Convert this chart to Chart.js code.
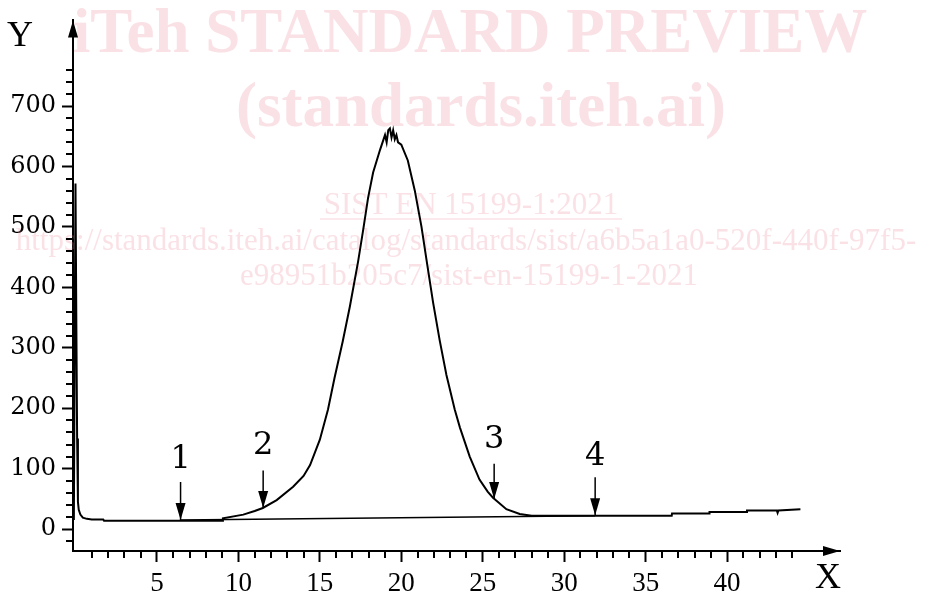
<!DOCTYPE html>
<html>
<head>
<meta charset="utf-8">
<script src="https://cdn.jsdelivr.net/npm/chart.js@4.4.1/dist/chart.umd.min.js"></script>
<style>
  html, body { margin: 0; padding: 0; background: #fff; }
  #wrap { width: 938px; height: 594px; position: relative; }
</style>
</head>
<body>
<div id="wrap"><canvas id="grafica"></canvas></div>
<script>
// curve
var curveX = [-0.1, -0.05, 0.0, 0.05, 0.1, 0.15, 0.2, 0.3, 0.45, 0.7, 1.0, 1.7, 1.75, 9.0,
  9.05, 10.3, 11.0, 11.5, 12.35, 13.36, 14.0, 14.4, 15.0, 15.5, 15.9, 16.4, 16.84, 17.35, 17.66,
  17.96, 18.27, 18.7, 18.9, 19.0, 19.1, 19.2, 19.3, 19.4, 19.5, 19.6, 19.7, 19.8, 20.0,
  20.4, 20.83, 21.24, 21.55, 21.95, 22.36, 22.77, 23.28, 23.6, 24.2, 24.8, 25.3, 25.63, 26.45,
  27.27, 28.0, 36.6, 36.62, 38.9, 38.92, 41.2, 41.22, 43.05, 43.1, 43.15, 44.5];
var curveY = [15, 300, 572, 350, 150, 45, 32, 24, 19, 17, 16, 16, 14, 14,
  18, 24, 30, 35, 48, 70, 88, 106, 148, 198, 250, 310, 368, 443, 495,
  548, 590, 628, 644, 652, 640, 660, 663, 648, 660, 645, 652, 640, 636,
  610, 560, 500, 445, 375, 312, 255, 198, 168, 120, 82, 62, 52, 33,
  25, 22, 22, 26, 26, 28.5, 28.5, 31, 31, 27, 31, 33];

// straight baseline under the peak
var baseX = [6.45, 31.9];
var baseY = [15, 22];

// numbered arrows
var markerX = [6.45, 11.52, 25.7, 31.9];
var markerTip = [15, 35, 50, 23];
var markerTail = [78, 97, 108, 86];
var markerLabelY = [115, 138, 148, 120];
var markerText = ['1', '2', '3', '4'];

// axis ticks
var xMajorTicks = [5, 10, 15, 20, 25, 30, 35, 40];
var yMajorTicks = [0, 100, 200, 300, 400, 500, 600, 700];
var xMinorTicks = [];
for (var i = 1; i <= 44; i++) { if (i % 5 !== 0) xMinorTicks.push(i); }
var yMinorTicks = [];
for (var v = -20; v <= 760; v += 20) { if (v % 100 !== 0 || v > 700) yMinorTicks.push(v); }

function toPoints(xs, ys) {
  var out = [];
  for (var i = 0; i < xs.length; i++) out.push({ x: xs[i], y: ys[i] });
  return out;
}

var datasets = [
  { data: toPoints(curveX, curveY), borderColor: '#000', borderWidth: 2, showLine: true, pointRadius: 0, tension: 0 },
  { data: toPoints(baseX, baseY), borderColor: '#000', borderWidth: 1.5, showLine: true, pointRadius: 0 }
];
for (var k = 0; k < markerX.length; k++) {
  datasets.push({
    data: [{ x: markerX[k], y: markerTail[k] }, { x: markerX[k], y: markerTip[k] }],
    borderColor: '#000', borderWidth: 1.5, showLine: true, pointRadius: 0
  });
}

var watermark = {
  id: 'watermark',
  beforeDatasetsDraw: function(chart) {
    var c = chart.ctx;
    c.save();
    c.fillStyle = 'rgba(236,130,150,0.24)';
    c.strokeStyle = 'rgba(236,130,150,0.24)';
    c.textAlign = 'center';
    c.textBaseline = 'middle';
    c.font = 'bold 63px "Liberation Serif"';
    c.fillText('iTeh STANDARD PREVIEW', 470, 36);
    c.fillText('(standards.iteh.ai)', 481, 110);
    c.font = '31px "Liberation Serif"';
    c.fillText('SIST EN 15199-1:2021', 471, 206);
    c.lineWidth = 1.5;
    c.beginPath(); c.moveTo(320, 219); c.lineTo(622, 219); c.stroke();
    c.fillText('https://standards.iteh.ai/catalog/standards/sist/a6b5a1a0-520f-440f-97f5-', 466, 242);
    c.fillText('e98951b205c7/sist-en-15199-1-2021', 469, 277);
    c.restore();
  }
};

var extras = {
  id: 'extras',
  afterDraw: function(chart) {
    var c = chart.ctx;
    var xs = chart.scales.x, ys = chart.scales.y, a = chart.chartArea;
    c.save();
    c.strokeStyle = '#000';
    c.fillStyle = '#000';
    c.lineWidth = 2;
    // minor ticks
    c.beginPath();
    yMinorTicks.forEach(function(t) {
      var py = Math.round(ys.getPixelForValue(t));
      c.moveTo(a.left - 7, py); c.lineTo(a.left, py);
    });
    xMinorTicks.forEach(function(t) {
      var px = Math.round(xs.getPixelForValue(t));
      c.moveTo(px, a.bottom); c.lineTo(px, a.bottom + 7);
    });
    c.stroke();
    // axis arrow heads
    c.beginPath();
    c.moveTo(a.left, a.top); c.lineTo(a.left - 5, a.top + 17); c.lineTo(a.left + 5, a.top + 17); c.closePath();
    c.fill();
    c.beginPath();
    c.moveTo(a.right, a.bottom); c.lineTo(a.right - 17, a.bottom - 5); c.lineTo(a.right - 17, a.bottom + 5); c.closePath();
    c.fill();
    // arrow heads and numbers
    c.font = '32px "DejaVu Serif"';
    c.textAlign = 'center';
    c.textBaseline = 'middle';
    for (var i = 0; i < markerX.length; i++) {
      var px = xs.getPixelForValue(markerX[i]);
      var py = ys.getPixelForValue(markerTip[i]);
      c.beginPath();
      c.moveTo(px, py); c.lineTo(px - 5, py - 17); c.lineTo(px + 5, py - 17); c.closePath();
      c.fill();
      c.fillText(markerText[i], px, ys.getPixelForValue(markerLabelY[i]));
    }
    // axis names
    c.font = '36px "Liberation Serif"';
    c.fillText('Y', a.left - 53, a.top + 16);
    c.fillText('X', a.right - 12, a.bottom + 28);
    c.restore();
  }
};

var ctx = document.getElementById('grafica').getContext('2d');
var chart = new Chart(ctx, {
  type: 'scatter',
  data: { datasets: datasets },
  options: {
    responsive: true,
    maintainAspectRatio: false,
    animation: false,
    devicePixelRatio: 1,
    layout: { padding: { left: 0, right: 98, top: 18, bottom: 0 } },
    plugins: { legend: { display: false }, tooltip: { enabled: false } },
    scales: {
      x: {
        type: 'linear',
        min: -0.153,
        max: 46.93,
        afterFit: function(s) { s.height = 43; },
        afterBuildTicks: function(s) { s.ticks = xMajorTicks.map(function(t) { return { value: t }; }); },
        border: { display: true, color: '#000', width: 2 },
        grid: { drawOnChartArea: false, drawTicks: true, tickLength: 11, tickWidth: 2, tickColor: '#000' },
        ticks: { color: '#000', padding: 6, maxRotation: 0, font: { family: 'Liberation Serif', size: 27 } }
      },
      y: {
        type: 'linear',
        min: -36.2,
        max: 841.7,
        afterFit: function(s) { s.width = 73; },
        afterBuildTicks: function(s) { s.ticks = yMajorTicks.map(function(t) { return { value: t }; }); },
        border: { display: true, color: '#000', width: 2 },
        grid: { drawOnChartArea: false, drawTicks: true, tickLength: 11, tickWidth: 2, tickColor: '#000' },
        ticks: { color: '#000', padding: 6, font: { family: 'DejaVu Serif', size: 24 } }
      }
    }
  },
  plugins: [watermark, extras]
});
</script>
</body>
</html>
